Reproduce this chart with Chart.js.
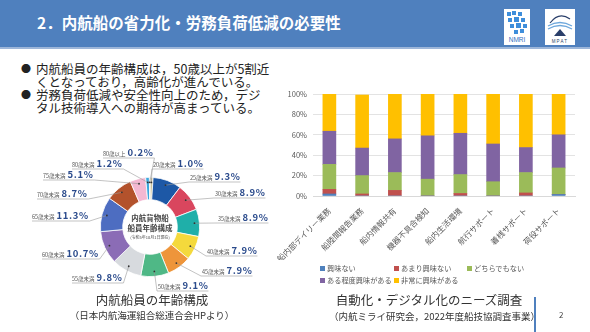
<!DOCTYPE html>
<html>
<head>
<meta charset="utf-8" />
<title>内航船の省力化・労務負荷低減の必要性</title>
<script src="https://cdn.jsdelivr.net/npm/chart.js"></script>
<style>
  body {
    margin: 0;
    width: 590px;
    height: 332px;
    background: white;
    position: relative;
    overflow: hidden;
    font-family: "Noto Sans CJK JP", sans-serif;
    color: #222;
  }
  .header {
    position: absolute; left: 0; top: 0;
    width: 590px; height: 47px;
    background: #4F80BE;
    border-bottom: 2px solid #9DB6D9;
  }
  .title {
    position: absolute; left: 37px; top: 11px;
    color: white; font-size: 15.5px; font-weight: bold;
    line-height: 22px; white-space: nowrap;
  }
  .logo { position: absolute; top: 9px; }
  .bullet {
    position: absolute; left: 36px;
    font-size: 12.5px; line-height: 13px; white-space: nowrap;
  }
  .bullet::before {
    content: "●"; position: absolute; left: -15px; top: 0;
    font-size: 10px;
  }
  .caption {
    position: absolute; text-align: center; white-space: nowrap; color: #333;
  }
  .cap-main { font-size: 12.5px; line-height: 16px; }
  .cap-sub { font-size: 9.5px; line-height: 14px; }
  #ageWrap { position: absolute; left: 0; top: 140px; width: 280px; height: 155px; }
  #needWrap { position: absolute; left: 270px; top: 80px; width: 310px; height: 180px; }
  #needLegend {
    position: absolute; left: 320px; top: 262px; width: 230px;
    font-size: 7.2px; line-height: 12px; color: #595959;
    display: grid; grid-template-columns: 74px 73px 80px;
  }
  #needLegend span.sw {
    display: inline-block; width: 5px; height: 5px; margin-right: 2px; vertical-align: 0;
  }
  .pageno { position: absolute; left: 559px; top: 309px; font-size: 8px; color: #444; }
  .rule { position: absolute; left: 534px; top: 297px; width: 2px; height: 35px; background: #4F80BE; }
</style>
</head>
<body>

<div class="header"></div>
<div class="title">2．内航船の省力化・労務負荷低減の必要性</div>

<svg class="logo" style="left:504px" width="26" height="36" viewBox="0 0 26 36">
  <rect width="26" height="36" fill="white"/>
  <g fill="#3E8EDB">
    <rect x="3" y="3" width="4" height="4"/><rect x="8" y="2" width="4" height="4"/><rect x="14" y="3" width="4" height="4"/>
    <rect x="4" y="9" width="4" height="4"/><rect x="10" y="8" width="5" height="5"/><rect x="17" y="9" width="4" height="4"/>
    <rect x="6" y="15" width="4" height="4"/><rect x="12" y="14" width="5" height="5"/><rect x="19" y="15" width="4" height="4"/>
    <rect x="10" y="21" width="4" height="4"/><rect x="16" y="20" width="4" height="4"/>
  </g>
  <text x="13" y="33" font-size="6.5" text-anchor="middle" fill="#2F6FBF" font-family="Liberation Sans">NMRI</text>
</svg>
<svg class="logo" style="left:545px" width="30" height="36" viewBox="0 0 30 36">
  <rect width="30" height="36" fill="white"/>
  <path d="M5 14 Q14 2 25 10" stroke="#2A3F6A" stroke-width="1.2" fill="none"/>
  <path d="M3 17 Q15 10 27 17" stroke="#6FA8DC" stroke-width="1.4" fill="none"/>
  <path d="M3 20 Q15 13 27 20" stroke="#6FA8DC" stroke-width="1.4" fill="none"/>
  <path d="M9 27 L15 20 L21 27 Z" fill="#2A3F6A"/>
  <text x="15" y="34" font-size="4.5" text-anchor="middle" fill="#2A3F6A" font-family="Liberation Sans" letter-spacing="1.2">MPAT</text>
</svg>

<div class="bullet" style="top:62px">内航船員の年齢構成は，50歳以上が5割近<br>くとなっており，高齢化が進んでいる。</div>
<div class="bullet" style="top:88px">労務負荷低減や安全性向上のため，デジ<br>タル技術導入への期待が高まっている。</div>

<div id="ageWrap"><canvas id="ageChart" width="280" height="155"></canvas></div>
<div id="needWrap"><canvas id="needChart" width="310" height="180"></canvas></div>
<div id="needLegend"></div>

<div class="caption cap-main" style="left:52px; width:200px; top:292px">内航船員の年齢構成</div>
<div class="caption cap-sub" style="left:52px; width:200px; top:308px">（日本内航海運組合総連合会HPより）</div>
<div class="caption cap-main" style="left:329px; width:200px; top:292px">自動化・デジタル化のニーズ調査</div>
<div class="caption cap-sub" style="left:329px; width:200px; top:309px">（内航ミライ研究会，2022年度船技協調査事業）</div>
<div class="rule"></div>
<div class="pageno">2</div>

<script>
  // Age structure of coastal cargo ship crews (%)
  const ageGroups = ['20歳未満', '25歳未満', '30歳未満', '35歳未満', '40歳未満', '45歳未満', '50歳未満',
                     '55歳未満', '60歳未満', '65歳未満', '70歳未満', '75歳未満', '80歳未満', '80歳以上'];
  const ageShares = [1.0, 9.3, 8.9, 8.9, 7.9, 7.9, 9.1, 9.8, 10.7, 11.3, 8.7, 5.1, 1.2, 0.2];
  const ageColors = ['#C9C49C', '#1D58A6', '#D9465E', '#1FAFA9', '#F4D93C', '#EE953A', '#4FB886',
                     '#D7DADE', '#8B6CB6', '#4D6DC1', '#B3522C', '#F3B8D2', '#3CA6DC', '#7C8C96'];
  // where each age label sits (left edge, vertical centre) on the doughnut canvas
  const ageLabelAt = [[153, 23], [190, 36], [215, 52], [218, 77], [207, 110], [202, 130], [158, 145],
                      [72, 137], [42, 113], [32, 75], [37, 53], [43, 34], [72, 23], [103, 12]];

  // Needs survey for automation / digitalisation (% of answers)
  const needItems = ['船内部デイリー業務', '船陸間報告業務', '船内情報共有', '機器不具合検知',
                     '船内生活環境', '航行サポート', '着桟サポート', '荷役サポート'];
  const notInterested   = [2, 0, 0, 0, 0, 0, 0, 1.5];
  const littleInterest  = [4.5, 2, 5.5, 0, 2.5, 0, 3, 0];
  const neutral         = [24.5, 18, 17.5, 16.5, 18.5, 14, 20, 26];
  const someInterest    = [32.5, 27, 33, 42.5, 40.5, 37, 24.5, 32.5];
  const veryInterested  = [36.5, 52, 44, 41, 38.5, 49, 52.5, 40];
  const answerNames  = ['興味ない', 'あまり興味ない', 'どちらでもない', 'ある程度興味がある', '非常に興味がある'];
  const answerColors = ['#4F81BD', '#C0504D', '#9BBB59', '#8064A2', '#FFC000'];
  const percentTicks = [0, 20, 40, 60, 80, 100];

  const JP = '"Noto Sans CJK JP", sans-serif';

  // leader dots, lines and labels round the doughnut, plus the centre caption
  const ageLabels = {
    id: 'ageLabels',
    afterDatasetsDraw(chart) {
      const ctx = chart.ctx;
      const arcs = chart.getDatasetMeta(0).data;
      ctx.save();
      arcs.forEach((arc, i) => {
        const mid = (arc.startAngle + arc.endAngle) / 2;
        const r = arc.outerRadius * 0.9;
        const px = arc.x + Math.cos(mid) * r;
        const py = arc.y + Math.sin(mid) * r;

        const [lx, ly] = ageLabelAt[i];
        const value = ageShares[i].toFixed(1) + '%';
        ctx.letterSpacing = '0px';
        ctx.font = '5.5px ' + JP;
        const w1 = ctx.measureText(ageGroups[i]).width;
        ctx.letterSpacing = '0.6px';
        ctx.font = 'bold 9.5px ' + JP;
        const w2 = ctx.measureText(value).width;
        const right = lx + w1 + 2 + w2;
        const uy = ly + 6;

        ctx.strokeStyle = '#9A9A9A';
        ctx.lineWidth = 0.6;
        ctx.beginPath();
        if (lx > arc.x) {
          ctx.moveTo(px, py); ctx.lineTo(lx - 1, uy); ctx.lineTo(right, uy);
        } else {
          ctx.moveTo(px, py); ctx.lineTo(right + 1, uy); ctx.lineTo(lx, uy);
        }
        ctx.stroke();

        ctx.fillStyle = '#333';
        ctx.beginPath();
        ctx.arc(px, py, 0.9, 0, Math.PI * 2);
        ctx.fill();

        ctx.textBaseline = 'alphabetic';
        ctx.textAlign = 'left';
        ctx.letterSpacing = '0px';
        ctx.font = '5.5px ' + JP;
        ctx.fillStyle = '#555';
        ctx.fillText(ageGroups[i], lx, ly + 3.5);
        ctx.letterSpacing = '0.6px';
        ctx.font = 'bold 9.5px ' + JP;
        ctx.fillStyle = '#2B4B8C';
        ctx.fillText(value, lx + w1 + 2, ly + 4);
      });

      const c = arcs[0];
      ctx.letterSpacing = '0px';
      ctx.textAlign = 'center';
      ctx.textBaseline = 'middle';
      ctx.fillStyle = '#444';
      ctx.font = 'bold 7.5px ' + JP;
      ctx.fillText('内航貨物船', c.x, c.y - 9);
      ctx.fillText('船員年齢構成', c.x, c.y + 1);
      ctx.font = '4px ' + JP;
      ctx.fillText('(令和5年10月1日現在)', c.x, c.y + 10);
      ctx.restore();
    }
  };

  new Chart(document.getElementById('ageChart'), {
    type: 'doughnut',
    data: {
      labels: ageGroups,
      datasets: [{
        data: ageShares,
        backgroundColor: ageColors,
        borderColor: '#fff',
        borderWidth: 0.8
      }]
    },
    options: {
      responsive: false,
      animation: false,
      cutout: '55%',
      layout: { padding: { left: 100, right: 80, top: 37, bottom: 18 } },
      plugins: { legend: { display: false }, tooltip: { enabled: false } }
    },
    plugins: [ageLabels]
  });

  const needSeries = [notInterested, littleInterest, neutral, someInterest, veryInterested];

  new Chart(document.getElementById('needChart'), {
    type: 'bar',
    data: {
      labels: needItems,
      datasets: needSeries.map((vals, k) => ({
        label: answerNames[k],
        data: vals,
        backgroundColor: answerColors[k],
        barThickness: 13
      }))
    },
    options: {
      responsive: false,
      animation: false,
      layout: { padding: { top: 14, right: 5, left: 0, bottom: 0 } },
      plugins: { legend: { display: false }, tooltip: { enabled: false } },
      scales: {
        x: {
          stacked: true,
          grid: { display: false },
          border: { color: '#D9D9D9' },
          afterFit: s => { s.height = 64; },
          ticks: {
            minRotation: 45, maxRotation: 45, padding: 2,
            color: '#595959', font: { family: JP, size: 8 }
          }
        },
        y: {
          stacked: true,
          min: 0, max: 100,
          afterFit: s => { s.width = 43; },
          afterBuildTicks: s => { s.ticks = percentTicks.map(v => ({ value: v })); },
          grid: { color: '#E3E3E3', drawTicks: false },
          border: { display: false },
          ticks: {
            padding: 6, color: '#595959',
            font: { family: JP, size: 7.5 },
            callback: v => v + '%'
          }
        }
      }
    }
  });

  // legend in three columns under the bars
  const legend = document.getElementById('needLegend');
  answerNames.forEach((name, k) => {
    const item = document.createElement('div');
    item.innerHTML = '<span class="sw" style="background:' + answerColors[k] + '"></span>' + name;
    legend.appendChild(item);
  });
</script>
</body>
</html>
